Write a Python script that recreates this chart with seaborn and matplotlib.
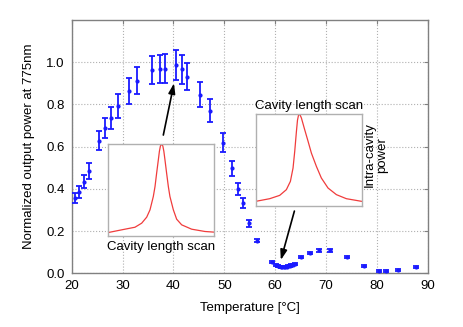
import numpy as np
import pandas as pd
import seaborn as sns
import matplotlib
matplotlib.use("Agg")
import matplotlib.pyplot as plt

# main curve: normalized SHG output vs crystal temperature
temp = [20.65, 21.4, 22.35, 23.3, 25.37, 26.55, 27.73, 29.04, 31.2, 32.9,
        35.8, 37.36, 38.28, 40.45, 41.7, 42.67, 45.2, 47.1, 49.75, 51.46,
        52.76, 53.6, 54.86, 56.37, 59.3, 60.2, 60.5, 60.8, 61.1, 61.4,
        61.7, 62.0, 62.3, 62.6, 62.9, 63.2, 63.5, 63.8, 65.1, 66.86,
        68.7, 70.8, 74.2, 77.5, 80.5, 81.7, 84.1, 87.7]
power = [0.358, 0.387, 0.434, 0.486, 0.627, 0.687, 0.734, 0.793, 0.864, 0.913,
         0.963, 0.968, 0.970, 0.986, 0.967, 0.932, 0.846, 0.771, 0.619, 0.498,
         0.400, 0.332, 0.237, 0.155, 0.054, 0.040, 0.036, 0.033, 0.031, 0.030,
         0.030, 0.031, 0.032, 0.034, 0.036, 0.039, 0.042, 0.046, 0.076, 0.095,
         0.109, 0.109, 0.076, 0.035, 0.011, 0.011, 0.016, 0.030]
err = [0.024, 0.028, 0.030, 0.038, 0.045, 0.047, 0.052, 0.055, 0.060, 0.065,
       0.068, 0.068, 0.070, 0.070, 0.069, 0.066, 0.060, 0.055, 0.045, 0.035,
       0.030, 0.024, 0.016, 0.008, 0.004, 0.004, 0.004, 0.004, 0.004, 0.004,
       0.004, 0.004, 0.004, 0.004, 0.004, 0.004, 0.004, 0.004, 0.005, 0.005,
       0.006, 0.006, 0.005, 0.004, 0.004, 0.004, 0.004, 0.004]

# inset 1: cavity length scan near phase matching (arb. units)
scan1_x = [0.006, 0.1625, 0.256, 0.319, 0.366, 0.397, 0.428, 0.444, 0.459, 0.475,
           0.485, 0.495, 0.506, 0.517, 0.527, 0.5375, 0.553, 0.569, 0.584, 0.616,
           0.647, 0.694, 0.7875, 0.9125, 1.0]
scan1_y = [0.043, 0.079, 0.100, 0.144, 0.209, 0.288, 0.432, 0.540, 0.683, 0.827,
           0.920, 0.980, 0.996, 0.980, 0.920, 0.827, 0.683, 0.540, 0.432, 0.288,
           0.187, 0.126, 0.079, 0.054, 0.047]

# inset 2: cavity length scan near 61 C
scan2_x = [0.0, 0.132, 0.226, 0.289, 0.327, 0.352, 0.368, 0.384, 0.394, 0.404,
           0.412, 0.421, 0.431, 0.462, 0.494, 0.525, 0.572, 0.619, 0.682, 0.761,
           0.855, 1.0]
scan2_y = [0.047, 0.076, 0.112, 0.174, 0.264, 0.409, 0.591, 0.808, 0.930, 0.985,
           0.996, 0.980, 0.953, 0.826, 0.699, 0.572, 0.428, 0.301, 0.192, 0.120,
           0.076, 0.047]

sns.set_style("white")
plt.rcParams['font.family'] = ['Liberation Sans', 'DejaVu Sans']
plt.rcParams['font.size'] = 9.5
plt.rcParams['text.color'] = 'black'
plt.rcParams['axes.labelcolor'] = 'black'
plt.rcParams['xtick.labelcolor'] = 'black'
plt.rcParams['ytick.labelcolor'] = 'black'

fig = plt.figure(figsize=(4.63, 3.27), dpi=100)
ax = fig.add_axes([0.155, 0.164, 0.769, 0.775])

ax.errorbar(temp, power, yerr=err, fmt='.', color='#1a1aff', ms=4,
            elinewidth=1.3, capsize=2, capthick=1.3, zorder=3)
ax.set_xlim(20, 90)
ax.set_ylim(0, 1.2)
ax.set_xticks(range(20, 91, 10))
ax.set_yticks([0, 0.2, 0.4, 0.6, 0.8, 1.0])
ax.set_yticklabels(["0.0", "0.2", "0.4", "0.6", "0.8", "1.0"])
ax.grid(True, ls=':', color='#b0b0b0', lw=0.8)
ax.tick_params(direction='in', length=3, color='#808080', top=True, right=True,
               labelsize=9.5, pad=5, labelcolor='black')
for s in ax.spines.values():
    s.set_color('#808080')
    s.set_linewidth(1.0)
ax.set_xlabel("Temperature [°C]", fontsize=9.5, labelpad=7, color='black')
ax.set_ylabel("Normalized output power at 775nm", fontsize=9.5, labelpad=8,
              color='black')

ax.annotate("", xy=(40.1, 0.90), xytext=(38.0, 0.655),
            arrowprops=dict(arrowstyle='-|>,head_length=0.6,head_width=0.2',
                            color='black', lw=1.2, mutation_scale=10,
                            shrinkA=0, shrinkB=0))
ax.annotate("", xy=(61.1, 0.063), xytext=(63.77, 0.295),
            arrowprops=dict(arrowstyle='-|>,head_length=0.6,head_width=0.2',
                            color='black', lw=1.2, mutation_scale=10,
                            shrinkA=0, shrinkB=0))


def inset(rect, xs, ys):
    a = fig.add_axes(rect)
    df = pd.DataFrame({"x": xs, "y": ys})
    sns.lineplot(data=df, x="x", y="y", ax=a, color='#f03c3c', lw=0.9, sort=False)
    a.set_xlim(0, 1)
    a.set_ylim(0, 1)
    a.set_xlabel("")
    a.set_ylabel("")
    a.set_xticks([0.13, 0.62])
    a.set_yticks([0.05, 0.25, 0.46, 0.66, 0.87])
    a.tick_params(direction='in', length=2, color='#b0b0b0',
                  labelbottom=False, labelleft=False)
    for s in a.spines.values():
        s.set_color('#b0b0b0')
        s.set_linewidth(1.0)
    return a


in1 = inset([0.2326, 0.2768, 0.2302, 0.2829], scan1_x, scan1_y)
in1.text(0.5, -0.05, "Cavity length scan", transform=in1.transAxes,
         ha='center', va='top', fontsize=9.5, color='black')

in2 = inset([0.5523, 0.371, 0.229, 0.2813], scan2_x, scan2_y)
in2.text(0.5, 1.02, "Cavity length scan", transform=in2.transAxes,
         ha='center', va='bottom', fontsize=9.5, color='black')

fig.text(0.812, 0.526, "Intra-cavity\npower", rotation=90, ha='center',
         va='center', fontsize=9.5, linespacing=1.0, color='black')

fig.savefig("out.png", dpi=100)
